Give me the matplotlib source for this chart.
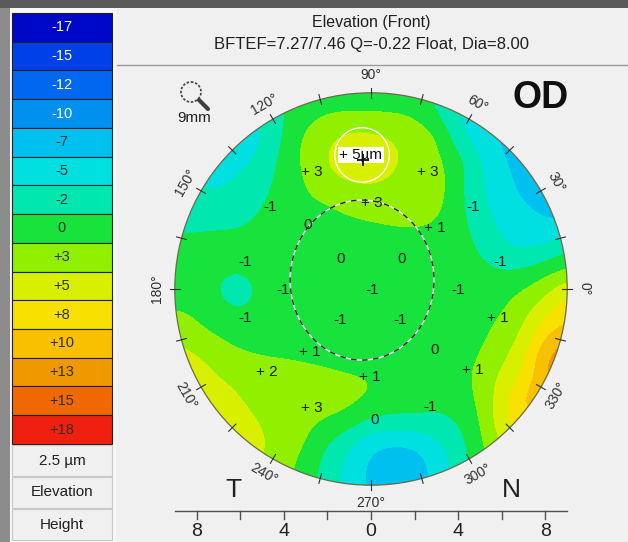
import numpy as np
import matplotlib
matplotlib.use('Agg')
import matplotlib.pyplot as plt
from matplotlib.colors import ListedColormap, BoundaryNorm
from matplotlib.patches import Circle, Ellipse, Rectangle

plt.rcParams['font.family'] = ['Liberation Sans', 'DejaVu Sans']

# colour scale, 2.5 um per band
scale_values = [-17.5, -15, -12.5, -10, -7.5, -5, -2.5, 0, 2.5, 5, 7.5, 10, 12.5, 15, 17.5]
scale_labels = ['-17', '-15', '-12', '-10', '-7', '-5', '-2', '0', '+3', '+5', '+8',
                '+10', '+13', '+15', '+18']
scale_colors = ['#0008c8', '#0040e8', '#0068f0', '#0090f0', '#00c0f0', '#00e0e0', '#00e8b0',
                '#18e23c', '#90f000', '#d8f000', '#f8e000', '#f8c000', '#f09800', '#f06800',
                '#f02010']
scale_step = 2.5

# elevation (um) on a 1 mm grid, rows y=+9..-9, columns x=-9..+9
grid_mm = np.arange(-9, 10)
elevation = [
    [-2.5, -2.5, -2.5, -2.5, -3, -1.5, -0.5, -0.5, -0.5, -0.5, -0.5, -0.5, -1.5, -4, -5, -5, -5, -5, -5],
    [-3, -3, -3, -3.5, -3.2, -1.2, 0.3, 1.3, 1.4, 1.4, 1.3, 0.9, -1.3, -4, -5, -5, -5, -5, -5],
    [-4, -4, -4.5, -5.2, -4.3, -0.9, 1.8, 3.2, 4.5, 4.3, 3.6, 2.8, 1.6, -3.2, -5.5, -7, -7, -7, -7],
    [-4, -4.5, -5.2, -5.2, -2.8, -0.5, 2.2, 4.0, 5.5, 5.5, 4.2, 3, 1.8, -0.5, -3.8, -6, -8, -8, -8],
    [-3.5, -4, -5, -3.0, -2.0, -0.5, 1.5, 3.3, 4.1, 4.1, 3.5, 3, 2.5, -0.3, -3.7, -5, -7.5, -8, -8],
    [-3, -2.8, -2.6, -2.2, -1.4, -0.3, 1.0, 1.3, 2.2, 2.8, 3, 3, 2.2, -0.5, -3.5, -5, -6.3, -7.5, -8],
    [-2, -1.8, -1.6, -1.5, -0.8, -0.5, 0, 0.5, 0.8, 1.1, 1.4, 1.5, 1.2, -0.3, -2.5, -4.5, -5, -6, -6],
    [-0.5, -0.5, -0.5, -0.6, -0.5, -0.4, -0.2, 0, 0, 0, 0.2, 0.4, 0.2, -0.5, -1.4, -3.8, -4.5, -4, -2],
    [-0.5, -0.5, -0.8, -1, -0.5, -0.3, -0.2, -0.2, -0.2, -0.2, -0.2, -0.2, -0.2, -0.3, -0.8, -1.6, -1.5, -0.3, 1],
    [-0.5, -0.5, -1.4, -2.2, -0.8, -0.5, -0.5, -0.5, -0.5, -0.5, -0.5, -0.3, 0, 0, 0, 0.3, 1.2, 3, 5.5],
    [1.5, 1.0, -1.0, -1.3, -0.7, -0.5, -0.5, -0.5, -0.5, -0.5, -0.5, -0.3, 0, 0, 0.2, 1.0, 3.0, 5.5, 8],
    [2.5, 1.8, 1.0, -0.2, -0.5, -0.5, -0.5, -0.5, -0.5, -0.5, -0.5, -0.3, 0, 0, 0.6, 2.2, 4.0, 8.5, 10],
    [5, 3.8, 2.5, 1.7, 1.2, 1.0, 0.8, 0.4, 0, -0.2, -0.3, -0.3, 0, 0.3, 1.25, 3.0, 5.5, 11.5, 13],
    [5.5, 5, 3.7, 2.8, 2.5, 2.3, 2.0, 1.8, 1.5, 1.3, 0.3, 0.2, 0.3, 0.6, 1.8, 4.5, 6.3, 12, 13],
    [5, 5, 5, 3.8, 2.8, 2.8, 2.8, 2.5, 2.0, 1.3, 0.2, 0, -0.8, 0, 1.8, 5.2, 9.5, 11, 11],
    [5, 5, 5, 4.5, 3.5, 2.6, 1.8, 1.2, 0.5, -1.5, -1.6, -1.5, -1.5, -1.2, 1.3, 5.8, 8, 9, 9],
    [5, 5, 5, 5, 4.2, 2.5, 1.5, -1.0, -3.2, -5.5, -6.0, -5.8, -4.0, -2.2, 1.0, 4, 8, 8, 8],
    [4, 4, 4, 4, 4, 2.0, 0.5, -2.5, -4.5, -7.0, -8, -7.5, -5.5, -2.5, 0, 4, 4, 4, 4],
    [4, 4, 4, 4, 3, 2, 0, -2.5, -4.5, -7, -8, -7.5, -5.5, -2.5, 0, 4, 4, 4, 4],
]

# point readings printed on the map (mm, um)
label_x = [-2.71, 2.61, 0.05, -4.63, 4.68, -2.89, 2.94, -5.78, -1.38, 1.42, 5.92, -4.04, 0.05,
           3.99, -5.78, -1.42, 1.33, 5.83, -2.80, 2.94, -4.77, -0.05, 4.68, -2.71, 0.18, 2.71]
label_y = [5.37, 5.37, 3.94, 3.76, 3.76, 2.94, 2.80, 1.24, 1.38, 1.38, 1.24, -0.05, -0.05,
           -0.05, -1.33, -1.42, -1.42, -1.33, -2.89, -2.80, -3.81, -4.04, -3.72, -5.46, -6.0, -5.41]
label_val = [3, 3, 3, -1, -1, 0, 1, -1, 0, 0, -1, -1, -1,
             -1, -1, -1, -1, 1, 1, 0, 2, 1, 1, 3, 0, -1]

peak_x, peak_y, peak_value = -0.41, 6.15, 5
apex_x, apex_y = -0.37, 5.92
pupil_x, pupil_y = -0.41, 0.41
pupil_w, pupil_h = 6.6, 7.34
map_radius = 9

W, H = 628, 542
PX = 21.8           # pixels per mm
CX, CY = 371, 289   # map centre in pixels

fig = plt.figure(figsize=(W / 100, H / 100), dpi=100, facecolor='#f0f0f0')

# background panel, pixel coordinates
bg = fig.add_axes([0, 0, 1, 1], zorder=0)
bg.set_xlim(0, W)
bg.set_ylim(H, 0)
bg.axis('off')
bg.add_patch(Rectangle((0, 0), 10, H, fc='#8c8c8c', ec='none'))
bg.add_patch(Rectangle((10, 8), 106, H, fc='#f8f8f8', ec='none'))
bg.add_patch(Rectangle((0, 0), W, 8, fc='#5a5a5a', ec='none'))
bg.plot([117, W], [65, 65], color='#9a9a9a', lw=1)

bg.text(371, 22, 'Elevation (Front)', ha='center', va='center', fontsize=11.5, color='#202020')
bg.text(371, 44, 'BFTEF=7.27/7.46 Q=-0.22 Float, Dia=8.00', ha='center', va='center',
        fontsize=12, color='#202020')

# colour legend
cell_h = 28.73
for i, (c, lab) in enumerate(zip(scale_colors, scale_labels)):
    top = 13 + i * cell_h
    bg.add_patch(Rectangle((12, top), 100, cell_h, fc=c, ec='#202020', lw=0.8))
    bg.text(62, top + cell_h / 2, lab, ha='center', va='center', fontsize=10.5,
            color='white' if i < 4 else '#303030')
for top, h, txt in [(445, 31, f'{scale_step} µm'), (477, 31, 'Elevation'), (509, 31, 'Height')]:
    bg.add_patch(Rectangle((12, top), 100, h, fc='#f0f0f0', ec='#c8c8c8', lw=0.8))
    bg.text(62, top + h / 2, txt, ha='center', va='center', fontsize=11, color='#202020')

# magnifier icon and zoom size
bg.add_patch(Circle((191, 92), 10, fill=False, ec='#404040', lw=1.2, ls=(0, (1.5, 1))))
bg.plot([199, 208], [100, 109], color='#404040', lw=3, solid_capstyle='round')
bg.text(194, 118, '9mm', ha='center', va='center', fontsize=11, color='#202020')
bg.text(541, 98, 'OD', ha='center', va='center', fontsize=27, fontweight='bold', color='#101010')

# elevation map, mm coordinates
ax = fig.add_axes([117 / W, 0, (W - 117) / W, 1], zorder=1)
ax.patch.set_alpha(0)
cmap = ListedColormap(scale_colors)
bounds = np.append(np.array(scale_values) - scale_step / 2, scale_values[-1] + scale_step / 2)
norm = BoundaryNorm(bounds, cmap.N)
im = ax.imshow(np.array(elevation), cmap=cmap, norm=norm, origin='upper',
               extent=[grid_mm[0] - 0.5, grid_mm[-1] + 0.5, grid_mm[0] - 0.5, grid_mm[-1] + 0.5],
               interpolation='bicubic', interpolation_stage='data', zorder=1)
im.set_clip_path(Circle((0, 0), map_radius, transform=ax.transData))
ax.add_patch(Circle((0, 0), map_radius, fill=False, ec='#6a6a50', lw=0.9, zorder=3))
ax.set_xlim((117 - CX) / PX, (W - CX) / PX)
ax.set_ylim((CY - H) / PX, CY / PX)
ax.set_aspect('auto')
ax.axis('off')

# angle ticks and labels around the rim
for a in range(0, 360, 15):
    t = np.deg2rad(a)
    ax.plot([8.77 * np.cos(t), 9.23 * np.cos(t)], [8.77 * np.sin(t), 9.23 * np.sin(t)],
            color='#303030', lw=0.8, zorder=4)
for a in range(0, 360, 30):
    t = np.deg2rad(a)
    rot = a - 90
    if rot > 90:
        rot -= 180
    ax.text(9.8 * np.cos(t), 9.8 * np.sin(t), f'{a}°', ha='center', va='center',
            rotation=rot, rotation_mode='anchor', fontsize=10, color='#303030', zorder=4)

# pupil outline
ax.add_patch(Ellipse((pupil_x, pupil_y), pupil_w, pupil_h, fill=False, ec='white', lw=1, zorder=4))
ax.add_patch(Ellipse((pupil_x, pupil_y), pupil_w, pupil_h, fill=False, ec='#202020', lw=1,
                     ls=(0, (4, 4)), zorder=4))

# point values
for x, y, v in zip(label_x, label_y, label_val):
    s = f'+ {v}' if v > 0 else str(v)
    ax.text(x, y, s, ha='center', va='center', fontsize=11, color='#202020', zorder=6)

# highest point
ax.add_patch(Circle((peak_x, peak_y), 1.25, fill=False, ec='white', lw=1, zorder=5))
ax.text(peak_x - 0.05, peak_y, f'+ {peak_value}µm', ha='center', va='center', fontsize=11,
        color='#101010', zorder=6, bbox=dict(fc='white', ec='none', pad=1))
ax.plot(apex_x, apex_y, marker='+', ms=9, mew=1.3, color='#101010', zorder=7)

# horizontal mm scale
scale_y = (CY - 511) / PX
ax.plot([-map_radius, map_radius], [scale_y, scale_y], color='#505050', lw=1)
for xt in np.arange(-8, 9, 2):
    ax.plot([xt, xt], [scale_y, scale_y - 0.37], color='#505050', lw=1)
    if xt % 4 == 0:
        ax.text(xt, scale_y - 0.95, str(abs(xt)), ha='center', va='center', fontsize=14,
                color='#202020')
ax.text(-6.33, -9.22, 'T', ha='center', va='center', fontsize=19, color='#202020')
ax.text(6.42, -9.22, 'N', ha='center', va='center', fontsize=19, color='#202020')

fig.savefig('out.png', dpi=100, facecolor=fig.get_facecolor())
